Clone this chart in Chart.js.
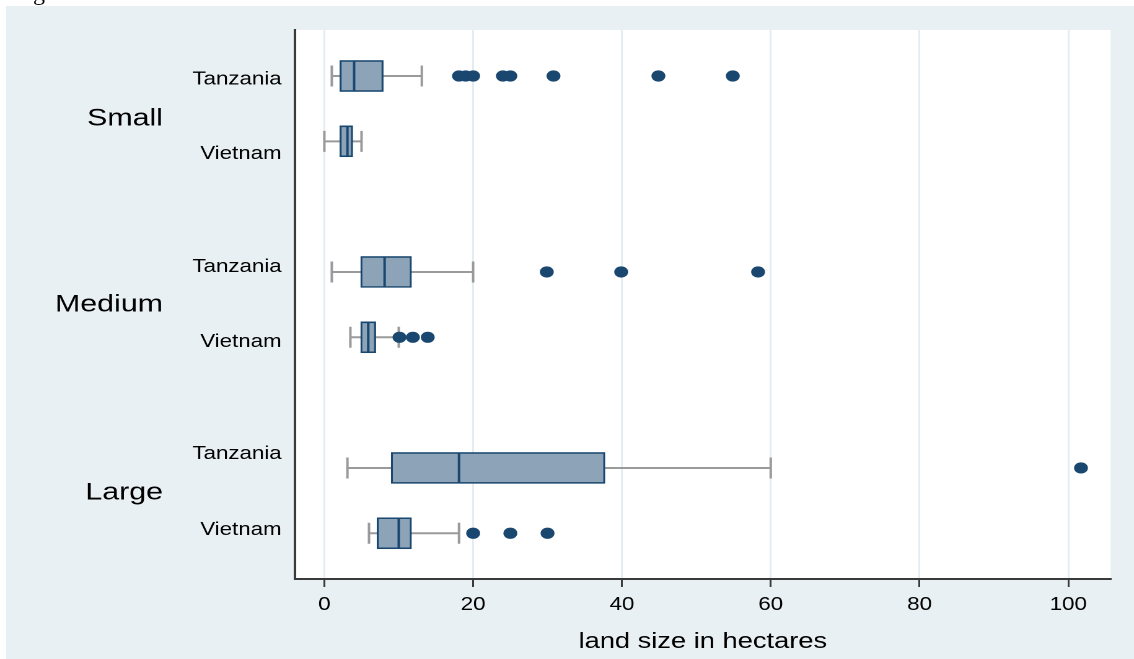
<!DOCTYPE html>
<html>
<head>
<meta charset="utf-8">
<script src="https://cdn.jsdelivr.net/npm/chart.js@4.4.0/dist/chart.umd.min.js"></script>
<style>
html,body{margin:0;padding:0;background:#fff;width:1134px;height:659px;overflow:hidden;}
#wrap{position:absolute;left:0;top:0;width:915px;height:659px;transform:scaleX(1.2393);transform-origin:0 0;}
#cut{position:absolute;left:33px;top:-20px;font:24px/24px "Liberation Serif",serif;color:#000;}
</style>
</head>
<body>
<div id="wrap"><canvas id="c"></canvas></div>
<div id="cut">g</div>
<script>
// ---- data ----
const groups = ['Small', 'Medium', 'Large'];
const countries = ['Tanzania', 'Vietnam'];
// one box per group x country, listed in drawing order top to bottom
const boxSlots    = [0, 1, 3, 4, 6, 7];
const whiskerLow  = [1.0, 0.0, 1.0, 3.5, 3.1, 6.0];
const quartile1   = [2.1, 2.1, 4.9, 4.9, 9.0, 7.1];
const medians     = [4.0, 3.1, 8.1, 5.9, 18.1, 10.0];
const quartile3   = [7.9, 3.8, 11.7, 6.9, 37.7, 11.7];
const whiskerHigh = [13.1, 5.0, 20.0, 10.0, 60.0, 18.1];
const outliers = [
  [18.1, 19.0, 20.0, 24.0, 25.0, 30.8, 44.9, 54.9],
  [],
  [29.9, 39.9, 58.3],
  [10.1, 11.9, 13.9],
  [101.7],
  [20.0, 25.0, 30.0]
];
const xTicks = [0, 20, 40, 60, 80, 100];
const xTitle = 'land size in hectares';
// label positions on the slot axis
const groupLabelSlots = [0.658, 3.505, 6.383];
const countryLabelSlots = [[0.054, 1.194], [2.924, 4.072], [5.786, 6.949]];

// ---- styles ----
const NAVY = '#1A476F';
const FILL = '#8CA3B8';
const WGREY = '#9A9A9A';
const PANEL = '#E8F0F3';
const GRID = '#E3ECEF';
const AXIS = '#3A3A3A';
const FONT = '"Liberation Sans", Arial, sans-serif';

const datasets = [];
boxSlots.forEach((s, i) => {
  datasets.push({
    type: 'scatter', showLine: true,
    data: [{x: whiskerLow[i], y: s}, {x: whiskerHigh[i], y: s}],
    borderColor: WGREY, borderWidth: 2, pointRadius: 0, order: 10
  });
});
datasets.push({
  type: 'scatter',
  data: boxSlots.flatMap((s, i) => [{x: whiskerLow[i], y: s}, {x: whiskerHigh[i], y: s}]),
  pointStyle: 'line', pointRotation: 90, pointRadius: 10.5,
  pointBorderColor: WGREY, pointBackgroundColor: WGREY, pointBorderWidth: 2, order: 9
});
datasets.push({
  type: 'bar', indexAxis: 'y',
  data: boxSlots.map((s, i) => ({y: s, x: [quartile1[i], quartile3[i]]})),
  barThickness: 31, backgroundColor: FILL, borderColor: NAVY, borderWidth: 1.6,
  borderSkipped: false, order: 5
});
datasets.push({
  type: 'scatter',
  data: boxSlots.map((s, i) => ({x: medians[i], y: s})),
  pointStyle: 'line', pointRotation: 90, pointRadius: 15.5,
  pointBorderColor: NAVY, pointBackgroundColor: NAVY, pointBorderWidth: 2, order: 2
});
datasets.push({
  type: 'scatter',
  data: boxSlots.flatMap((s, i) => outliers[i].map(v => ({x: v, y: s}))),
  pointStyle: 'circle', pointRadius: 5.6,
  pointBackgroundColor: NAVY, pointBorderColor: NAVY, pointBorderWidth: 0, order: 1
});

const bgPlugin = {
  id: 'bg',
  beforeDraw(chart) {
    const {ctx, width, height, chartArea: a} = chart;
    ctx.save();
    ctx.fillStyle = '#fff';
    ctx.fillRect(0, 0, width, height);
    ctx.fillStyle = PANEL;
    ctx.fillRect(4.84, 6, width - 4.84, height - 6);
    ctx.fillStyle = '#fff';
    ctx.fillRect(a.left, a.top, a.right - a.left, a.bottom - a.top);
    ctx.restore();
  }
};

const labelPlugin = {
  id: 'catLabels',
  afterDraw(chart) {
    const {ctx, chartArea: a} = chart;
    const y = chart.scales.y;
    ctx.save();
    ctx.fillStyle = '#000';
    ctx.textAlign = 'right';
    ctx.textBaseline = 'middle';
    groups.forEach((g, gi) => {
      ctx.font = '24.5px ' + FONT;
      ctx.fillText(g, a.left - 106.5, y.getPixelForValue(groupLabelSlots[gi]));
      ctx.font = '18px ' + FONT;
      countries.forEach((c, ci) => {
        ctx.fillText(c, a.left - 10.7, y.getPixelForValue(countryLabelSlots[gi][ci]));
      });
    });
    ctx.restore();
  }
};

new Chart(document.getElementById('c'), {
  type: 'scatter',
  data: {datasets},
  plugins: [bgPlugin, labelPlugin],
  options: {
    responsive: true,
    maintainAspectRatio: false,
    devicePixelRatio: 2,
    animation: false,
    events: [],
    datasets: {bar: {indexAxis: 'y'}},
    layout: {padding: {left: 0, right: 18.8, top: 30, bottom: 0}},
    plugins: {legend: {display: false}, tooltip: {enabled: false}, title: {display: false}},
    scales: {
      x: {
        type: 'linear', position: 'bottom', min: -3.95, max: 105.69,
        offset: false, beginAtZero: false,
        afterBuildTicks: s => { s.ticks = xTicks.map(v => ({value: v})); },
        afterFit: s => { s.height = 80; },
        grid: {display: true, offset: false, color: GRID, lineWidth: 1.5, drawTicks: true,
               tickLength: 8, tickColor: AXIS, tickWidth: 1.5},
        border: {display: true, color: AXIS, width: 2},
        ticks: {color: '#000', font: {family: FONT, size: 18}, padding: 7,
                autoSkip: false, maxRotation: 0},
        title: {display: true, text: xTitle, color: '#000', font: {family: FONT, size: 22},
                padding: {top: 0, bottom: 4}}
      },
      y: {
        type: 'linear', position: 'left', min: -0.704, max: 7.70, reverse: true,
        offset: false, beginAtZero: false,
        afterFit: s => { s.width = 238; },
        grid: {display: false, offset: false},
        border: {display: true, color: AXIS, width: 2},
        ticks: {display: false}
      }
    }
  }
});
</script>
</body>
</html>
